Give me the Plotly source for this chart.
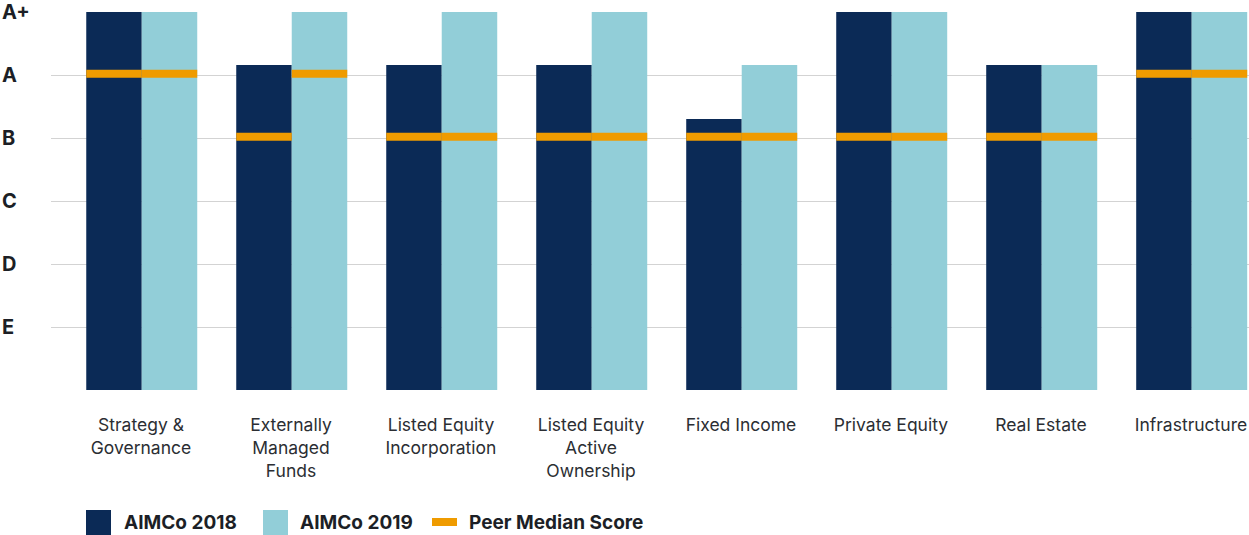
import plotly.graph_objects as go

# data (grade scale: E=1 ... A+=6)
categories = ["Strategy &<br>Governance", "Externally<br>Managed<br>Funds",
              "Listed Equity<br>Incorporation", "Listed Equity<br>Active<br>Ownership",
              "Fixed Income", "Private Equity", "Real Estate", "Infrastructure"]
aimco_2018 = [6, 5.16, 5.16, 5.16, 4.3, 6, 5.16, 6]
aimco_2019 = [6, 6, 6, 6, 5.16, 6, 5.16, 6]
peer_2018 = [5, 4, 4, 4, 4, 4, 4, 5]
peer_2019 = [5, 5, 4, 4, 4, 4, 4, 5]
grade_vals = [6, 5, 4, 3, 2, 1]
grade_text = ["A+", "A", "B", "C", "D", "E"]

NAVY = "#0B2A56"
TEAL = "#92CED8"
ORANGE = "#EF9B00"
BAND = 0.13  # thickness of the peer median marker, in grade units

fig = go.Figure()
fig.add_trace(go.Bar(x=categories, y=aimco_2018, width=0.37, offset=-0.365,
                     marker=dict(color=NAVY, line=dict(width=0)), name="AIMCo 2018"))
fig.add_trace(go.Bar(x=categories, y=aimco_2019, width=0.37, offset=0.005,
                     marker=dict(color=TEAL, line=dict(width=0)), name="AIMCo 2019"))
fig.add_trace(go.Bar(x=categories, y=[BAND] * len(peer_2018),
                     base=[v - BAND / 2 + 0.02 for v in peer_2018], width=0.37, offset=-0.365,
                     marker=dict(color=ORANGE, line=dict(width=0)), name="Peer Median Score"))
fig.add_trace(go.Bar(x=categories, y=[BAND] * len(peer_2019),
                     base=[v - BAND / 2 + 0.02 for v in peer_2019], width=0.37, offset=0.005,
                     marker=dict(color=ORANGE, line=dict(width=0)), showlegend=False))

# plot area in pixels: x 51..1249, y 12..390
L, T, W, H = 51, 12, 1198, 378
def px(x):
    return (x - L) / W
def py(y):
    return (T + H - y) / H

annotations = []
for v, t in zip(grade_vals, grade_text):
    annotations.append(dict(x=px(0), xref="paper", y=v, yref="y", text="<b>%s</b>" % t,
                            xanchor="left", yanchor="middle", showarrow=False,
                            font=dict(family="Inter", size=20, color="#1c1f26")))

# custom legend
shapes = []
legend_items = [(86, 122, NAVY, "AIMCo 2018", "box"),
                (263, 298, TEAL, "AIMCo 2019", "box"),
                (432, 467, ORANGE, "Peer Median Score", "line")]
for sx, tx, col, label, kind in legend_items:
    if kind == "box":
        y0, y1 = 510, 535
    else:
        y0, y1 = 518, 526
    shapes.append(dict(type="rect", xref="paper", yref="paper", x0=px(sx), x1=px(sx + 25),
                       y0=py(y1), y1=py(y0), fillcolor=col, line=dict(width=0)))
    annotations.append(dict(x=px(tx), xref="paper", y=py(522), yref="paper",
                            text="<b>%s</b>" % label, xanchor="left", yanchor="middle",
                            showarrow=False, font=dict(family="Inter", size=19, color="#1c1f26")))

fig.update_layout(
    width=1249, height=535,
    margin=dict(l=L, r=0, t=T, b=535 - T - H),
    paper_bgcolor="white", plot_bgcolor="white",
    barmode="overlay", showlegend=False,
    font=dict(family="Inter", size=17, color="#2b2e33"),
    shapes=shapes, annotations=annotations,
)
fig.update_xaxes(range=[-0.6, 7.387], showgrid=False, zeroline=False, showline=False,
                 ticks="outside", ticklen=0, ticklabelstandoff=19,
                 tickfont=dict(family="Inter", size=17.5, color="#2b2e33"))
fig.update_yaxes(range=[0, 6], tickvals=[0] + grade_vals, showticklabels=False,
                 showgrid=True, gridcolor="#d3d3d3", gridwidth=1.2, zeroline=False)

fig.write_html("out.html", config={"displayModeBar": False},
               post_script="document.body.style.margin='0';")
